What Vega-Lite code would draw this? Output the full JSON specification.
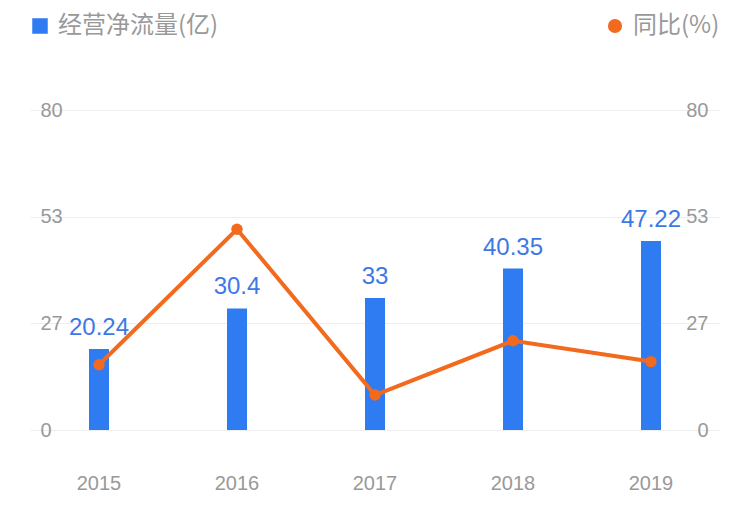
{
  "$schema": "https://vega.github.io/schema/vega-lite/v6.json",
  "width": 690,
  "height": 320,
  "autosize": {"type": "none"},
  "padding": {"left": 30, "top": 110, "right": 30, "bottom": 81},
  "background": "#ffffff",
  "config": {"view": {"stroke": null}, "font": "Liberation Sans"},
  "data": {"values": [
    {"year": "2015", "flow": 20.24, "yoy": 16.3},
    {"year": "2016", "flow": 30.4, "yoy": 50.2},
    {"year": "2017", "flow": 33, "yoy": 8.75},
    {"year": "2018", "flow": 40.35, "yoy": 22.3},
    {"year": "2019", "flow": 47.22, "yoy": 17.1}
  ]},
  "encoding": {
    "x": {"field": "year", "type": "nominal", "sort": null, "scale": {"paddingInner": 0, "paddingOuter": 0},
      "axis": {"title": null, "domain": false, "ticks": false, "tickSize": 0, "labelAngle": 0, "labelFontSize": 20, "labelColor": "#999999", "labelPadding": 53, "labelBaseline": "middle", "grid": false}}
  },
  "layer": [
    {
      "layer": [
        {
          "mark": {"type": "bar", "size": 20},
          "encoding": {
            "y": {"field": "flow", "type": "quantitative", "scale": {"domain": [0, 80]},
              "axis": {"title": null, "orient": "left", "values": [0, 26.6667, 53.3333, 80], "labelExpr": "round(datum.value)", "domain": false, "ticks": false, "tickSize": 0, "labelAlign": "left", "labelBaseline": "middle", "labelPadding": -10, "labelFontSize": 20, "labelColor": "#999999", "grid": true, "gridColor": "#eeeeee", "gridWidth": 1}},
            "color": {"datum": "经营净流量(亿)", "type": "nominal", "scale": {"range": ["#2f7bf2"]},
              "legend": {"title": null, "orient": "none", "legendX": -2, "legendY": -96, "symbolType": "square", "symbolSize": 240, "labelFontSize": 24, "labelColor": "#999999", "labelFont": "Noto Sans CJK SC", "labelOffset": 6, "labelLimit": 400, "padding": 0}}
          }
        },
        {
          "mark": {"type": "text", "baseline": "alphabetic", "dy": -14, "fontSize": 24, "color": "#3d78e6"},
          "encoding": {
            "y": {"field": "flow", "type": "quantitative"},
            "text": {"field": "flow", "type": "quantitative"}
          }
        }
      ]
    },
    {
      "mark": {"type": "line", "strokeWidth": 4, "point": {"filled": true, "size": 130, "opacity": 1}},
      "encoding": {
        "y": {"field": "yoy", "type": "quantitative", "scale": {"domain": [0, 80]},
          "axis": {"title": null, "orient": "right", "values": [0, 26.6667, 53.3333, 80], "labelExpr": "round(datum.value)", "domain": false, "ticks": false, "tickSize": 0, "labelAlign": "right", "labelBaseline": "middle", "labelPadding": -12, "labelFontSize": 20, "labelColor": "#999999", "grid": false}},
        "color": {"datum": "同比(%)", "type": "nominal", "scale": {"range": ["#f26a1d"]},
          "legend": {"title": null, "orient": "none", "legendX": 573, "legendY": -96, "symbolType": "circle", "symbolSize": 200, "symbolStrokeWidth": 0, "symbolFillColor": "#f26a1d", "labelFontSize": 24, "labelColor": "#999999", "labelFont": "Noto Sans CJK SC", "labelOffset": 6, "labelLimit": 400, "padding": 0}}
      }
    }
  ],
  "resolve": {"scale": {"y": "independent", "color": "independent"}, "legend": {"color": "independent"}}
}
